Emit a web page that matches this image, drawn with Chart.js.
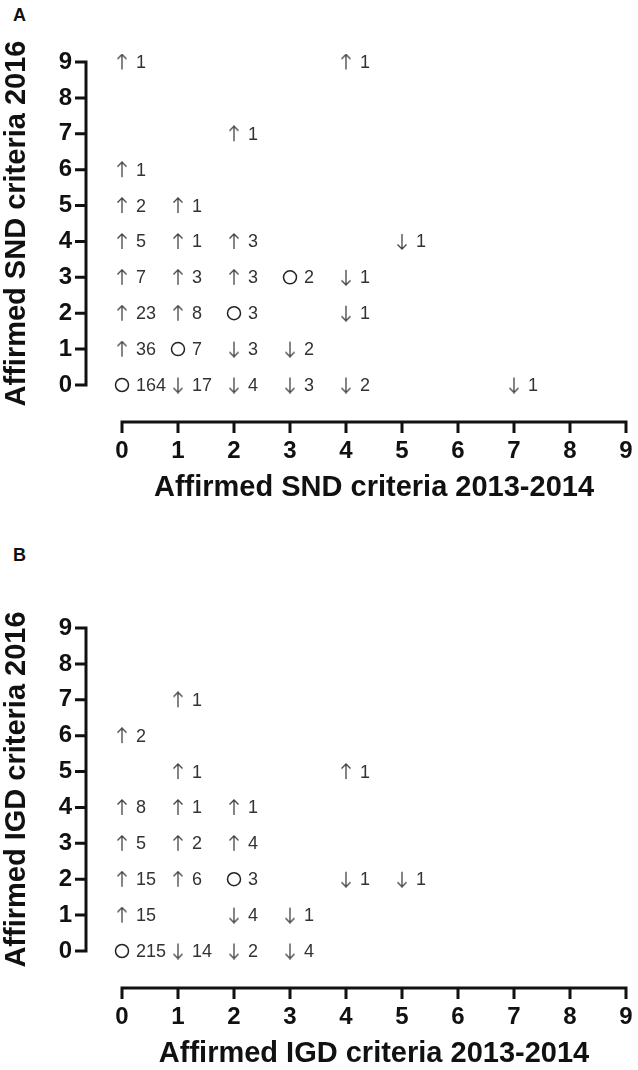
<!DOCTYPE html>
<html>
<head>
<meta charset="utf-8">
<script src="https://cdn.jsdelivr.net/npm/chart.js@4.4.1/dist/chart.umd.min.js"></script>
<style>
  html, body { margin: 0; padding: 0; background: #fff; }
  #wrap { position: relative; width: 638px; height: 1070px; overflow: hidden; }
  canvas { position: absolute; left: 0; }
  #chartA { top: 0; }
  #chartB { top: 566px; }
  .letter { position: absolute; left: 13px; font: bold 18px "Liberation Sans", Arial, sans-serif; line-height: 18px; color: #111; }
</style>
</head>
<body>
<div id="wrap">
  <div class="letter" style="top:6px">A</div>
  <canvas id="chartA" width="638" height="505"></canvas>
  <div class="letter" style="top:546px">B</div>
  <canvas id="chartB" width="638" height="505"></canvas>
</div>
<script>
// criteria counts, x = 2013-2014, y = 2016, n = number of participants
const sndUp = [
  {x: 0, y: 9, n: 1}, {x: 4, y: 9, n: 1}, {x: 2, y: 7, n: 1}, {x: 0, y: 6, n: 1},
  {x: 0, y: 5, n: 2}, {x: 1, y: 5, n: 1}, {x: 0, y: 4, n: 5}, {x: 1, y: 4, n: 1},
  {x: 2, y: 4, n: 3}, {x: 0, y: 3, n: 7}, {x: 1, y: 3, n: 3}, {x: 2, y: 3, n: 3},
  {x: 0, y: 2, n: 23}, {x: 1, y: 2, n: 8}, {x: 0, y: 1, n: 36}
];
const sndSame = [
  {x: 3, y: 3, n: 2}, {x: 2, y: 2, n: 3}, {x: 1, y: 1, n: 7}, {x: 0, y: 0, n: 164}
];
const sndDown = [
  {x: 5, y: 4, n: 1}, {x: 4, y: 3, n: 1}, {x: 4, y: 2, n: 1}, {x: 2, y: 1, n: 3},
  {x: 3, y: 1, n: 2}, {x: 1, y: 0, n: 17}, {x: 2, y: 0, n: 4}, {x: 3, y: 0, n: 3},
  {x: 4, y: 0, n: 2}, {x: 7, y: 0, n: 1}
];

const igdUp = [
  {x: 1, y: 7, n: 1}, {x: 0, y: 6, n: 2}, {x: 1, y: 5, n: 1}, {x: 4, y: 5, n: 1},
  {x: 0, y: 4, n: 8}, {x: 1, y: 4, n: 1}, {x: 2, y: 4, n: 1}, {x: 0, y: 3, n: 5},
  {x: 1, y: 3, n: 2}, {x: 2, y: 3, n: 4}, {x: 0, y: 2, n: 15}, {x: 1, y: 2, n: 6},
  {x: 0, y: 1, n: 15}
];
const igdSame = [
  {x: 2, y: 2, n: 3}, {x: 0, y: 0, n: 215}
];
const igdDown = [
  {x: 4, y: 2, n: 1}, {x: 5, y: 2, n: 1}, {x: 2, y: 1, n: 4}, {x: 3, y: 1, n: 1},
  {x: 1, y: 0, n: 14}, {x: 2, y: 0, n: 2}, {x: 3, y: 0, n: 4}
];

const tickMin = 0;
const tickMax = 9;

const FONT = '"Liberation Sans", Arial, sans-serif';

// arrow markers drawn on small canvases, used as pointStyle
function makeArrow(up) {
  const c = document.createElement('canvas');
  c.width = 12;
  c.height = 17;
  const g = c.getContext('2d');
  g.strokeStyle = '#444';
  g.lineWidth = 1.3;
  g.beginPath();
  g.moveTo(6, 1);
  g.lineTo(6, 16);
  if (up) {
    g.moveTo(1.5, 5.5); g.lineTo(6, 1); g.lineTo(10.5, 5.5);
  } else {
    g.moveTo(1.5, 11.5); g.lineTo(6, 16); g.lineTo(10.5, 11.5);
  }
  g.stroke();
  return c;
}
const arrowUp = makeArrow(true);
const arrowDown = makeArrow(false);

// offset axes like the original (detached from the data area)
const offsetAxes = {
  id: 'offsetAxes',
  afterDraw(chart) {
    const {ctx, chartArea, scales: {x, y}} = chart;
    const ax = chartArea.left - 36;
    const ay = chartArea.bottom + 37;
    ctx.save();
    ctx.strokeStyle = '#111';
    ctx.lineWidth = 3;
    ctx.lineCap = 'butt';
    ctx.beginPath();
    ctx.moveTo(ax, y.getPixelForValue(tickMax) - 1.5);
    ctx.lineTo(ax, y.getPixelForValue(tickMin) + 1.5);
    ctx.moveTo(x.getPixelForValue(tickMin) - 1.5, ay);
    ctx.lineTo(x.getPixelForValue(tickMax) + 1.5, ay);
    for (let v = tickMin; v <= tickMax; v++) {
      const py = y.getPixelForValue(v);
      ctx.moveTo(ax, py);
      ctx.lineTo(ax - 11, py);
      const px = x.getPixelForValue(v);
      ctx.moveTo(px, ay);
      ctx.lineTo(px, ay + 11);
    }
    ctx.stroke();
    ctx.restore();
  }
};

// count labels next to each marker
const countLabels = {
  id: 'countLabels',
  afterDatasetsDraw(chart) {
    const {ctx} = chart;
    ctx.save();
    ctx.font = '18px ' + FONT;
    ctx.fillStyle = '#333';
    ctx.textAlign = 'left';
    ctx.textBaseline = 'middle';
    chart.data.datasets.forEach((ds, i) => {
      chart.getDatasetMeta(i).data.forEach((pt, j) => {
        ctx.fillText(String(ds.data[j].n), pt.x + 14, pt.y + 1);
      });
    });
    ctx.restore();
  }
};

// invisible tick marks: they only push the labels away from the data area
const hiddenGrid = (len) => ({display: false, drawTicks: true, tickLength: len, tickColor: 'rgba(0,0,0,0)'});

function makeChart(id, up, same, down, xTitle, yTitle) {
  return new Chart(document.getElementById(id), {
    type: 'scatter',
    data: {
      datasets: [
        {data: up, pointStyle: arrowUp, clip: false},
        {data: down, pointStyle: arrowDown, clip: false},
        {
          data: same,
          pointStyle: 'circle',
          pointRadius: 6.5,
          backgroundColor: 'rgba(0,0,0,0)',
          borderColor: '#222',
          borderWidth: 1.5,
          clip: false
        }
      ]
    },
    options: {
      responsive: false,
      animation: false,
      events: [],
      layout: {padding: {top: 62, right: 12, bottom: 0, left: 0}},
      plugins: {
        legend: {display: false},
        tooltip: {enabled: false}
      },
      scales: {
        x: {
          type: 'linear',
          min: tickMin,
          max: tickMax,
          grid: hiddenGrid(52),
          border: {display: false},
          ticks: {stepSize: 1, padding: 0, color: '#111', font: {family: FONT, size: 24, weight: 'bold'}},
          title: {display: true, text: xTitle, color: '#111', padding: 0, font: {family: FONT, size: 29, weight: 'bold'}},
          afterFit(scale) { scale.height = 120; }
        },
        y: {
          type: 'linear',
          min: tickMin,
          max: tickMax,
          grid: hiddenGrid(50),
          border: {display: false},
          ticks: {stepSize: 1, padding: 0, color: '#111', font: {family: FONT, size: 24, weight: 'bold'}},
          title: {display: true, text: yTitle, color: '#111', padding: 0, font: {family: FONT, size: 29, weight: 'bold'}},
          afterFit(scale) { scale.width = 122; }
        }
      }
    },
    plugins: [offsetAxes, countLabels]
  });
}

makeChart('chartA', sndUp, sndSame, sndDown, 'Affirmed SND criteria 2013-2014', 'Affirmed SND criteria 2016');
makeChart('chartB', igdUp, igdSame, igdDown, 'Affirmed IGD criteria 2013-2014', 'Affirmed IGD criteria 2016');
</script>
</body>
</html>
